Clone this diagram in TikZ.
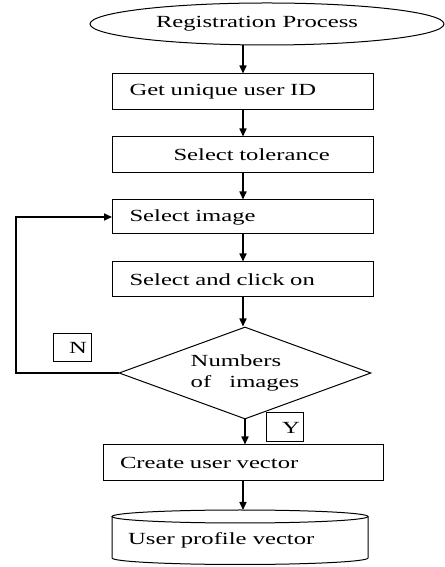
\documentclass[tikz,border=0pt]{standalone}
\usepackage{fontspec}
\setmainfont{Liberation Serif}[FakeStretch=1.45]
\usetikzlibrary{shapes.geometric,arrows.meta}
\tikzset{
  every node/.style={font=\fontsize{17}{21}\selectfont},
  box/.style={draw, line width=1pt, rectangle, minimum height=36pt, inner xsep=17pt, inner ysep=0pt, text width=227pt, align=left},
  tag/.style={draw, line width=1pt, rectangle, inner xsep=4pt, inner ysep=0pt, align=right},
  arr/.style={line width=1.6pt, -{Triangle[length=8pt,width=7pt]}},
}
\begin{document}
\begin{tikzpicture}[x=1pt,y=1pt]
\useasboundingbox (0,0) rectangle (444,567);
% start ellipse
\node[ellipse, draw, line width=1pt, minimum width=354pt, minimum height=42pt, inner sep=0pt] (start) at (267,543) {\hspace*{-20pt}Registration Process};
% boxes
\node[box] (b1) at (243,475) {Get unique user ID};
\node[box] (b2) at (243,412) {\hspace*{44pt}Select tolerance};
\node[box, minimum height=34pt] (b3) at (243,350) {Select image};
\node[box, minimum height=35pt] (b4) at (243,287.5) {Select and click on};
\node[diamond, draw, line width=1pt, minimum width=252pt, minimum height=92pt, aspect=2.7, inner sep=0pt, align=left] (dia) at (245,194) {Numbers\\of\hspace{12pt} images};
\node[box, text width=246pt] (b5) at (243,104) {Create user vector};
% cylinder (database)
\draw[line width=1pt] (112,50.5) -- (112,9) arc (180:360:128 and 6.5) -- (368,50.5);
\draw[line width=1pt] (240,50.5) ellipse (128 and 6.5);
\coordinate (dbtop) at (243,57);
\node[anchor=west, inner sep=0pt] (db) at (128,27) {User profile vector};
% tags
\node[tag, text width=30pt, minimum height=28pt] (tN) at (72,219) {N};
\node[tag, text width=31pt, inner xsep=3pt, minimum height=29pt] (tY) at (284.5,139.5) {Y};
% connectors
\draw[arr] (b1.north |- start.south) -- (b1.north);
\draw[arr] (b1.south) -- (b2.north);
\draw[arr] (b2.south) -- (b3.north);
\draw[arr] (b3.south) -- (b4.north);
\draw[arr] (b4.south) -- (b4.south |- dia.north);
\draw[arr] (dia.south) -- (dia.south |- b5.north);
\draw[arr] (b5.south) -- (b5.south |- dbtop);
\coordinate (lp) at (16,0);
\draw[arr] (dia.west) -- (dia.west -| lp) |- (b3.west);
\end{tikzpicture}
\end{document}
